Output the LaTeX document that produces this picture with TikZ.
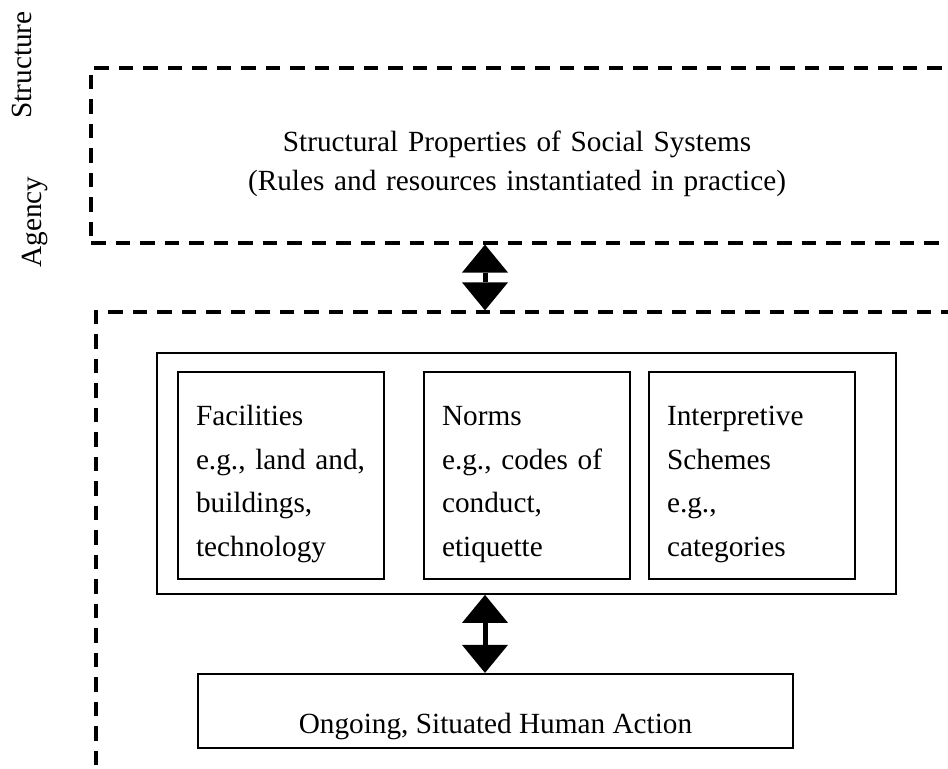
\documentclass[tikz,border=0pt]{standalone}
\usepackage{fontspec}
\setmainfont{Liberation Serif}
\usetikzlibrary{arrows.meta,positioning}

\newlength\pxu
\setlength\pxu{0.41pt}

\tikzset{
  dashbox/.style={draw, line width=3.2\pxu, dash pattern=on 14.5\pxu off 10\pxu, inner sep=0pt},
  solidbox/.style={draw, line width=1.8\pxu, inner sep=0pt},
  itembox/.style={solidbox, text width=170\pxu, inner xsep=18\pxu, align=left,
    text height=54\pxu, text depth=153\pxu, font=\fontsize{12}{17.8}\selectfont},
  twoway/.style={line width=2.05pt,
    {Triangle[length=11.5pt, width=18.9pt, line width=0pt]}-{Triangle[length=11.5pt, width=18.9pt, line width=0pt]}},
  sidelabel/.style={rotate=90, anchor=base, inner sep=0pt}
}

\begin{document}
\begin{tikzpicture}[x=0.41pt, y=-0.41pt, every node/.append style={font=\fontsize{12}{15.6}\selectfont}]

    \useasboundingbox (0,0) rectangle (948,769);
    \clip (0,0) rectangle (948,769);

    % Etiquetas laterales
    \node[sidelabel] (structlabel) at (32,65) {Structure};
    \node[sidelabel] (agencylabel) at (41,222) {Agency};

    % Zonas discontinuas
    \node[dashbox, minimum width=889\pxu, minimum height=175\pxu] (structure) at (535.5,155.5) {};
    \node[dashbox, minimum width=884\pxu, minimum height=488\pxu] (agency) at (538,556) {};

    \node[anchor=base, text width=600\pxu, align=center] (structprops) at (517,152)
      {Structural Properties of Social Systems\\(Rules and resources instantiated in practice)};

    % Modalidades
    \node[solidbox, minimum width=739\pxu, minimum height=241\pxu] (modalities) at (526.5,473.5) {};
    \node[itembox] (facilities) at (281,475.5) {Facilities\\e.g., land and,\\buildings,\\technology};
    \node[itembox] (norms) at (527,475.5) {Norms\\e.g., codes of\\conduct,\\etiquette};
    \node[itembox] (schemes) at (752,475.5) {Interpretive\\Schemes\\e.g.,\\categories};

    % Accion
    \node[solidbox, line width=2.2\pxu, minimum width=595\pxu, text height=60\pxu, text depth=14\pxu]
      (action) at (495.5,711) {Ongoing, Situated Human Action};

    % Flechas dobles
    \coordinate (axis) at (485,0);
    \draw[twoway] (structure.south -| axis) -- (agency.north -| axis);
    \draw[twoway] (modalities.south -| axis) -- (action.north -| axis);

\end{tikzpicture}
\end{document}
